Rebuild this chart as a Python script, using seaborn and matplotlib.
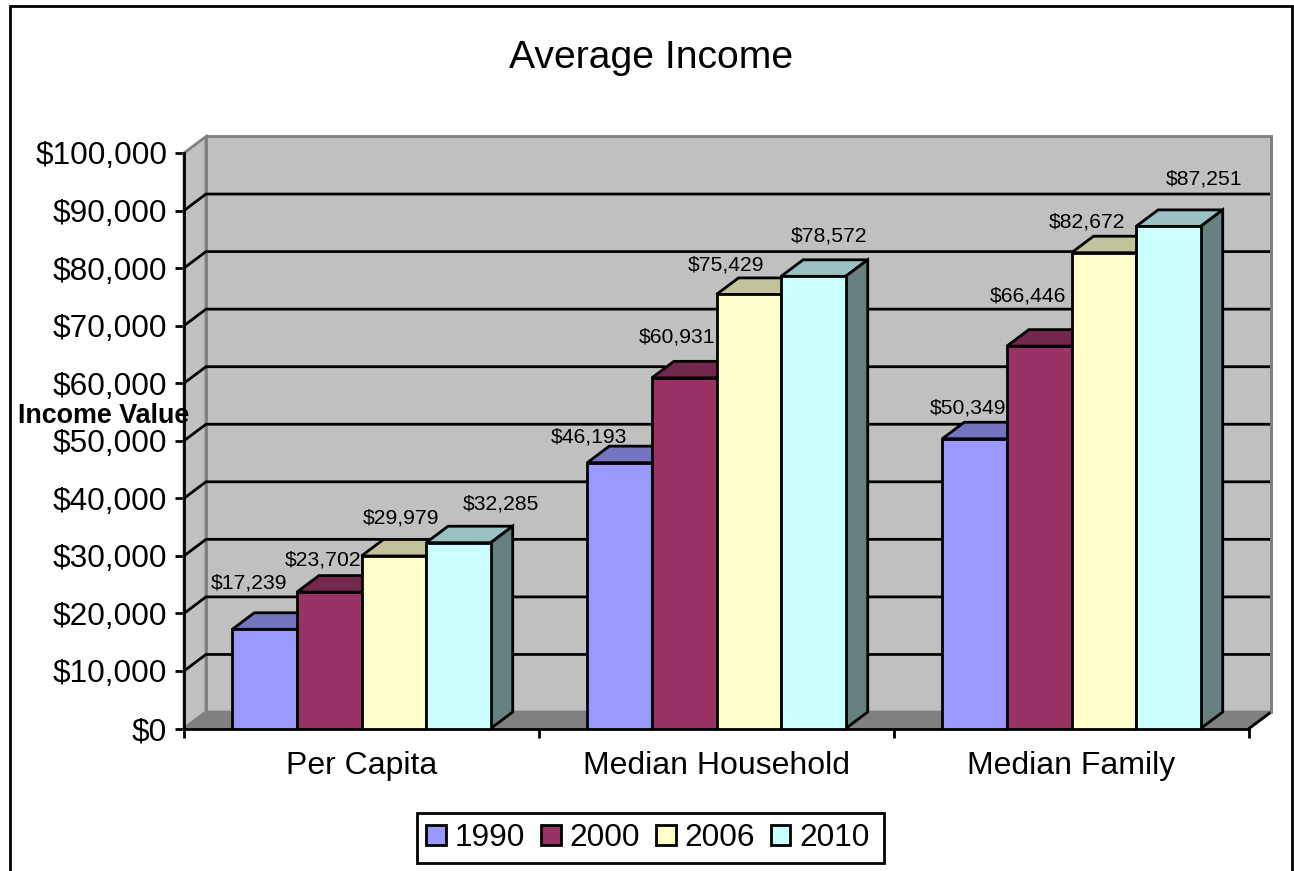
import pandas as pd
import matplotlib
matplotlib.use("Agg")
import matplotlib.pyplot as plt
from matplotlib.colors import to_rgb
from matplotlib.patches import Patch, Polygon, Rectangle
import seaborn as sns

# --- Data ---
categories = ["Per Capita", "Median Household", "Median Family"]
years = ["1990", "2000", "2006", "2010"]
values_1990 = [17239, 46193, 50349]
values_2000 = [23702, 60931, 66446]
values_2006 = [29979, 75429, 82672]
values_2010 = [32285, 78572, 87251]
y_ticks = list(range(0, 100001, 10000))

df = pd.DataFrame({
    "category": categories * 4,
    "year": [y for y in years for _ in categories],
    "income": values_1990 + values_2000 + values_2006 + values_2010,
})

# --- Style ---
colors = ["#9999FF", "#993366", "#FFFFCC", "#CCFFFF"]
palette = dict(zip(years, colors))
sns.set_theme(style="white")
plt.rcParams["font.family"] = ["Liberation Sans", "DejaVu Sans"]
plt.rcParams["text.color"] = "black"

W, H = 1294, 871
LEFT, RIGHT, Y0, YTOP = 184.0, 1249.0, 728.5, 153.0
DEPTH_X, DEPTH_Y = 22, 16.5
LINE = 2.0

# label offsets from the top centre of each bar, in pixels (moved by hand in the original)
label_offsets = {
    "1990": [(-16, 46), (-31, 26), (-7, 31)],
    "2000": [(-6, 32), (-7, 41), (-11, 50)],
    "2006": [(7, 38), (-23, 29), (-17, 31)],
    "2010": [(43, 39), (16, 40), (36, 47)],
}

fig = plt.figure(figsize=(W / 100, H / 100), dpi=100, facecolor="white")
ax = fig.add_axes([LEFT / W, 1 - Y0 / H, (RIGHT - LEFT) / W, (Y0 - YTOP) / H])
ax.patch.set_visible(False)

# --- Bars ---
sns.barplot(data=df, x="category", y="income", hue="year", hue_order=years,
            order=categories, palette=palette, saturation=1, width=0.728, gap=0,
            edgecolor="black", linewidth=LINE, legend=False, ax=ax)
ax.set_xlim(-0.5, 2.5)
ax.set_ylim(0, 100000)

# depth of the fake 3D box, in data units
dx = DEPTH_X * 3 / (RIGHT - LEFT)
dy = DEPTH_Y * 100000 / (Y0 - YTOP)
x0, x1 = ax.get_xlim()
top = y_ticks[-1]


def shade(color, factor):
    return tuple(c * factor for c in to_rgb(color))


# --- Walls, floor, gridlines ---
wall_kw = dict(clip_on=False, joinstyle="miter")
ax.add_patch(Polygon([(x0 + dx, dy), (x1 + dx, dy), (x1 + dx, top + dy), (x0 + dx, top + dy)],
                     facecolor="#C0C0C0", edgecolor="#808080", lw=LINE, zorder=0.5, **wall_kw))
ax.add_patch(Polygon([(x0, 0), (x0 + dx, dy), (x0 + dx, top + dy), (x0, top)],
                     facecolor="#C0C0C0", edgecolor="#808080", lw=LINE, zorder=0.6, **wall_kw))
ax.add_patch(Polygon([(x0, 0), (x1, 0), (x1 + dx, dy), (x0 + dx, dy)],
                     facecolor="#808080", edgecolor="#808080", lw=LINE, zorder=0.7, **wall_kw))
ax.plot([x1, x1 + dx], [0, dy], color="black", lw=LINE, zorder=0.8, clip_on=False)
for tick in y_ticks[1:-1]:
    ax.plot([x0, x0 + dx, x1 + dx], [tick, tick + dy, tick + dy],
            color="black", lw=LINE, zorder=1, clip_on=False)
# right edge of the back wall sits over the gridline ends
ax.plot([x1 + dx, x1 + dx], [dy, top + dy], color="#808080", lw=LINE, zorder=1.5, clip_on=False)

# --- 3D faces and value labels ---
for i, (container, year) in enumerate(zip(ax.containers, years)):
    for bar, offset, value in zip(container, label_offsets[year], df[df.year == year].income):
        bx, bw, bh = bar.get_x(), bar.get_width(), bar.get_height()
        bar.set_zorder(3 + i + 0.5)
        bar.set_joinstyle("miter")
        ax.add_patch(Polygon([(bx, bh), (bx + bw, bh), (bx + bw + dx, bh + dy), (bx + dx, bh + dy)],
                             facecolor=shade(colors[i], 0.76), edgecolor="black", lw=LINE,
                             zorder=3 + i, **wall_kw))
        ax.add_patch(Polygon([(bx + bw, 0), (bx + bw, bh), (bx + bw + dx, bh + dy), (bx + bw + dx, dy)],
                             facecolor=shade(colors[i], 0.5), edgecolor="black", lw=LINE,
                             zorder=3 + i, **wall_kw))
        ax.annotate(f"${value:,}", xy=(bx + bw / 2, bh), xytext=offset,
                    textcoords="offset pixels", ha="center", va="center",
                    fontsize=15.2, color="black", zorder=10, annotation_clip=False)

# --- Axes ---
sns.despine(ax=ax, top=True, right=True)
for side in ["left", "bottom"]:
    ax.spines[side].set_color("black")
    ax.spines[side].set_linewidth(LINE)
    ax.spines[side].set_zorder(2.5)

ax.set_yticks(y_ticks)
ax.set_yticklabels([f"${t:,}" for t in y_ticks])
ax.tick_params(axis="y", length=6.5, width=LINE, color="black", labelsize=22.8, pad=5.5,
               left=True, labelcolor="black")
ax.set_xticks(range(len(categories)))
ax.set_xticklabels(categories)
ax.tick_params(axis="x", which="major", length=0, labelsize=23, pad=16.5, labelcolor="black")
ax.set_xticks([-0.5, 0.5, 1.5, 2.5], minor=True)
ax.tick_params(axis="x", which="minor", length=6.5, width=LINE, color="black", bottom=True)
ax.set_xlabel("")
ax.set_ylabel("")

# --- Title, y label, legend, outer frame ---
fig.text(651 / W, 1 - 58.5 / H, "Average Income", ha="center", va="center", fontsize=28.2)
fig.text(104 / W, 1 - 416 / H, "Income Value", ha="center", va="center",
         fontsize=19.4, fontweight="bold")

handles = [Patch(facecolor=c, edgecolor="black", lw=LINE, label=y) for c, y in zip(colors, years)]
fig.legend(handles=handles, loc="center", bbox_to_anchor=(648 / W, 1 - 838 / H), ncol=4,
           fontsize=22.8, frameon=False, handlelength=0.62, handleheight=0.62,
           handletextpad=0.28, columnspacing=0.5, borderpad=0, borderaxespad=0)
fig.add_artist(Rectangle((417 / W, 1 - 863 / H), 467 / W, 50 / H, fill=False,
                         edgecolor="black", lw=LINE, transform=fig.transFigure))

fig.add_artist(Rectangle((9.5 / W, -0.05), (1292 - 9.5) / W, 1.05 - 6 / H, fill=False,
                         edgecolor="black", lw=LINE, transform=fig.transFigure))

fig.savefig("out.png", dpi=100)
